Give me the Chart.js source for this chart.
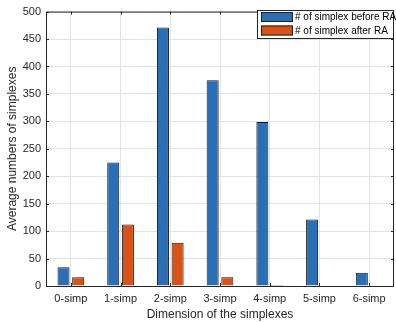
<!DOCTYPE html>
<html>
<head>
  <title>Simplexes</title>
  <script src="https://cdn.jsdelivr.net/npm/chart.js@4.4.0/dist/chart.umd.min.js"></script>
  <style>
    body { margin: 0; background: #fff; }
    #wrap { width: 396px; height: 322px; }
  </style>
</head>
<body>
  <div id="wrap"><canvas id="simpChart" width="396" height="322"></canvas></div>

  <script>
    // values
    const categories = ['0-simp', '1-simp', '2-simp', '3-simp', '4-simp', '5-simp', '6-simp'];
    const beforeRA = [34, 225, 471, 375, 299, 121, 24];
    const afterRA = [16, 112, 79, 16, 2, 1, 1];
    const yTicks = [0, 50, 100, 150, 200, 250, 300, 350, 400, 450, 500];

    const FONT = "'Liberation Sans', Arial, sans-serif";

    // box around the axes, inward ticks and a legend drawn inside the plot
    const matlabBox = {
      id: 'matlabBox',
      afterDraw(chart) {
        const ctx = chart.ctx;
        const a = chart.chartArea;
        const xs = chart.scales.x, ys = chart.scales.y;
        ctx.save();
        ctx.strokeStyle = '#262626';
        ctx.lineWidth = 1;
        ctx.strokeRect(a.left + 0.5, a.top + 0.5, a.right - a.left - 1, a.bottom - a.top);
        ctx.beginPath();
        categories.forEach((c, i) => {
          const x = Math.round(xs.getPixelForValue(i)) + 0.5;
          ctx.moveTo(x, a.bottom); ctx.lineTo(x, a.bottom - 3);
          ctx.moveTo(x, a.top); ctx.lineTo(x, a.top + 3);
        });
        yTicks.forEach(v => {
          const y = Math.round(ys.getPixelForValue(v)) + 0.5;
          ctx.moveTo(a.left, y); ctx.lineTo(a.left + 3, y);
          ctx.moveTo(a.right, y); ctx.lineTo(a.right - 3, y);
        });
        ctx.stroke();

        // legend
        const lx = 257, ly = 10, lw = a.right - lx - 1, lh = 28;
        ctx.fillStyle = '#fff';
        ctx.fillRect(lx, ly, lw, lh);
        ctx.strokeStyle = '#262626';
        ctx.strokeRect(lx + 0.5, ly + 0.5, lw, lh);
        ctx.font = '10px ' + FONT;
        ctx.textBaseline = 'middle';
        chart.data.datasets.forEach((ds, i) => {
          const sy = ly + 2 + i * 13.5;
          ctx.fillStyle = ds.backgroundColor;
          ctx.fillRect(261, sy, 32, 10);
          ctx.strokeStyle = '#222';
          ctx.strokeRect(261.5, sy + 0.5, 31, 9);
          ctx.fillStyle = '#000';
          ctx.fillText(ds.label, 295, sy + 5.5);
        });
        ctx.restore();
      }
    };

    const ctx = document.getElementById('simpChart').getContext('2d');
    new Chart(ctx, {
      type: 'bar',
      data: {
        labels: categories,
        datasets: [
          {
            label: '# of simplex before RA',
            data: beforeRA,
            backgroundColor: '#2a6fb5',
            borderColor: '#1a1a1a',
            borderWidth: 1,
            categoryPercentage: 0.59,
            barPercentage: 0.82
          },
          {
            label: '# of simplex after RA',
            data: afterRA,
            backgroundColor: '#d95319',
            borderColor: '#1a1a1a',
            borderWidth: 1,
            categoryPercentage: 0.59,
            barPercentage: 0.82
          }
        ]
      },
      options: {
        responsive: false,
        animation: false,
        layout: { padding: { top: 10, right: 2, left: 0, bottom: 0 } },
        plugins: {
          legend: { display: false },
          tooltip: { enabled: false }
        },
        scales: {
          x: {
            offset: true,
            grid: { offset: false, color: '#e3e3e3', drawTicks: false },
            border: { display: false },
            ticks: { color: '#262626', font: { family: FONT, size: 11 }, padding: 6 },
            title: {
              display: true,
              text: 'Dimension of the simplexes',
              color: '#262626',
              font: { family: FONT, size: 12 },
              padding: { top: 2, bottom: 0 }
            },
            afterFit(s) { s.height = 36; }
          },
          y: {
            min: 0,
            max: 500,
            afterBuildTicks(s) { s.ticks = yTicks.map(v => ({ value: v })); },
            grid: { color: '#e3e3e3', drawTicks: false },
            border: { display: false },
            ticks: { color: '#262626', font: { family: FONT, size: 11 }, padding: 5 },
            title: {
              display: true,
              text: 'Average numbers of simplexes',
              color: '#262626',
              font: { family: FONT, size: 12 },
              padding: { top: 5, bottom: 2 }
            },
            afterFit(s) { s.width = 46; }
          }
        }
      },
      plugins: [matlabBox]
    });
  </script>
</body>
</html>
